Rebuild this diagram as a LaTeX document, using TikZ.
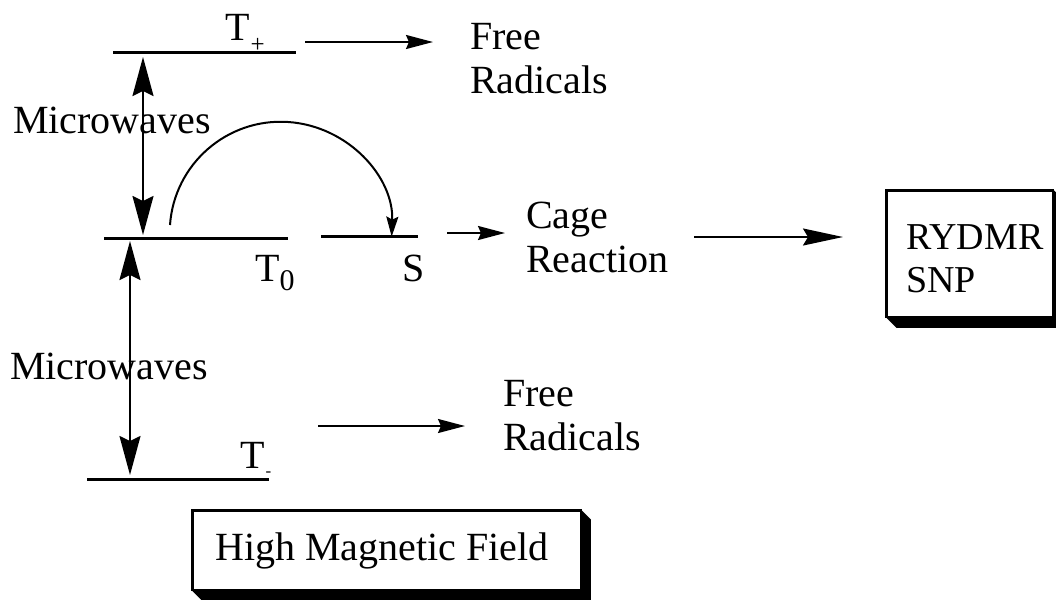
\documentclass[tikz,border=0pt]{standalone}
\usepackage{fontspec}
\setmainfont{Liberation Serif}
\usetikzlibrary{arrows.meta}
\begin{document}
\begin{tikzpicture}[x=1pt,y=-1pt,
  lvl/.style={line width=3pt},
  arr/.style={line width=2pt},
  lbl/.style={anchor=base west, inner sep=0pt, font=\fontsize{40}{44}\selectfont, align=left},
  tipS/.style={-{Stealth[length=27pt,width=14pt,inset=3pt]}},
  tipL/.style={-{Stealth[length=40pt,width=17pt,inset=5pt]}},
  tipV/.style={{Stealth[length=39pt,width=21pt,inset=5pt]}-{Stealth[length=39pt,width=21pt,inset=5pt]}},
  tipA/.style={-{Stealth[length=20pt,width=12pt,inset=3pt]}},
  shbox/.style={draw, line width=1.5pt, fill=white, inner sep=0pt},
  shfill/.style={fill=black}
]
\clip (0,0) rectangle (1056,600);
\fill[white] (0,0) rectangle (1056,600);

% energy levels
\coordinate (tpL) at (113,52);  \coordinate (tpR) at (296,52);
\coordinate (t0L) at (104,238); \coordinate (t0R) at (288,238);
\coordinate (sL)  at (321,236); \coordinate (sR)  at (418,236);
\coordinate (tmL) at (87,479);  \coordinate (tmR) at (269,479);
\draw[lvl] (tpL) -- (tpR);
\draw[lvl] (t0L) -- (t0R);
\draw[lvl] (sL) -- (sR);
\draw[lvl] (tmL) -- (tmR);

% level labels
\node[lbl] (tplus) at (225,40) {T\kern1pt\raisebox{-12pt}{\fontsize{25}{25}\selectfont +}};
\node[lbl] (tzero) at (255,281) {T\raisebox{-9pt}{\fontsize{30}{30}\selectfont 0}};
\node[lbl] (slab)  at (402,281) {S};
\node[lbl] (tminus) at (240,468) {T\kern1pt\raisebox{-8.5pt}{\fontsize{17}{17}\selectfont -}};

% side labels
\node[lbl] (mw1) at (13,133) {Microwaves};
\node[lbl] (mw2) at (10,379) {Microwaves};
\node[lbl] (fr1) at (470,93) {Free\\Radicals};
\node[lbl] (fr2) at (503,450) {Free\\Radicals};
\node[lbl] (cage) at (526,272) {Cage\\Reaction};

% microwave double arrows
\coordinate (v1t) at (143,57);  \coordinate (v1b) at (143,235);
\coordinate (v2t) at (130,241); \coordinate (v2b) at (130,475);
\draw[arr,tipV] (v1t) -- (v1b);
\draw[arr,tipV] (v2t) -- (v2b);

% T0 -> S arc
\coordinate (arcS) at (170,225);
\draw[arr,tipA] (arcS) arc[start angle=176, end angle=-2, radius=111pt];

% horizontal arrows
\coordinate (a1s) at (305,42);  \coordinate (a1e) at (433,42);
\coordinate (a2s) at (447,233); \coordinate (a2e) at (505,233);
\coordinate (a3s) at (694,237); \coordinate (a3e) at (843,237);
\coordinate (a4s) at (318,426); \coordinate (a4e) at (465,426);
\draw[arr,tipS] (a1s) -- (a1e);
\draw[arr,tipS] (a2s) -- (a2e);
\draw[arr,tipL] (a3s) -- (a3e);
\draw[arr,tipS] (a4s) -- (a4e);

% RYDMR box
\node[shbox, minimum width=166pt, minimum height=126pt] (rbox) at (970,254) {};
\fill[shfill] (rbox.south west) -- ([shift={(10,10)}]rbox.south west) -- ([shift={(10,10)}]rbox.south east)
  -- ([shift={(10,10)}]rbox.north east) -- (rbox.north east) -- (rbox.south east) -- cycle;
\draw[line width=3pt] (rbox.south west) -- (rbox.north west) -- (rbox.north east);
\node[lbl, font=\fontsize{38}{43}\selectfont] (rtext) at (906,292) {RYDMR\\SNP};

% High Magnetic Field box
\node[shbox, minimum width=388pt, minimum height=79pt] (hmf) at (387,550.5) {};
\fill[shfill] (hmf.south west) -- ([shift={(9,9)}]hmf.south west) -- ([shift={(9,9)}]hmf.south east)
  -- ([shift={(9,9)}]hmf.north east) -- (hmf.north east) -- (hmf.south east) -- cycle;
\draw[line width=3pt] (hmf.south west) -- (hmf.north west) -- (hmf.north east);
\node[lbl] (hmftext) at (215,560) {High Magnetic Field};
\end{tikzpicture}
\end{document}
